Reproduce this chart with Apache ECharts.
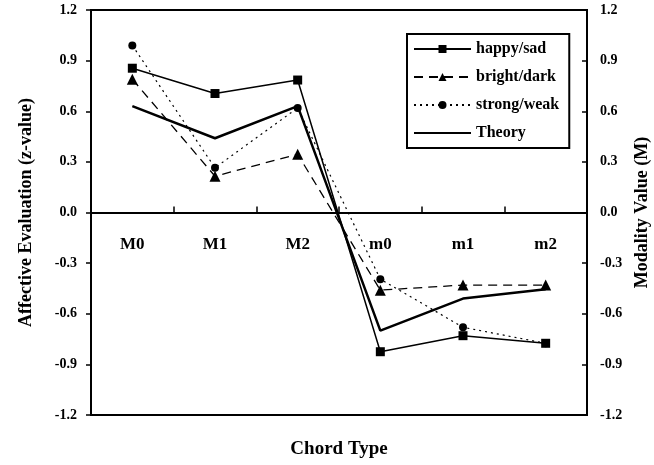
<!DOCTYPE html>
<html><head><meta charset="utf-8">
<script src="https://cdn.jsdelivr.net/npm/echarts@6/dist/echarts.min.js"></script>
<style>html,body{margin:0;padding:0;background:#fff}#c{width:654px;height:465px}</style>
</head><body><div id="c"></div>
<script>
const categories = ['M0','M1','M2','m0','m1','m2'];
const happySad = [0.855, 0.705, 0.785, -0.825, -0.73, -0.775];
const brightDark = [0.79, 0.215, 0.345, -0.46, -0.43, -0.43];
const strongWeak = [0.99, 0.265, 0.62, -0.395, -0.68, -0.775];
const theory = [0.63, 0.44, 0.63, -0.70, -0.51, -0.455];
const yTicks = [-1.2, 1.2, 0.3];

const F = 'Liberation Serif';
const chart = echarts.init(document.getElementById('c'));
const ax = (pos, inside, name, nameGap) => ({
  type: 'value', position: pos, min: yTicks[0], max: yTicks[1], interval: yTicks[2],
  name: name, nameLocation: 'middle', nameGap: nameGap, nameRotate: 90,
  nameTextStyle: {fontFamily: F, fontWeight: 'bold', fontSize: 18, color: '#000'},
  axisLine: {show: true, onZero: false, lineStyle: {color: '#000', width: 2}},
  axisTick: {show: true, inside: inside, length: 5, lineStyle: {color: '#000', width: 1.5}},
  axisLabel: {fontFamily: F, fontWeight: 'bold', fontSize: 14, color: '#000', margin: inside ? 13 : 14,
    formatter: v => v.toFixed(1)},
  splitLine: {show: false}
});
chart.setOption({
  animation: false,
  grid: {left: 91, right: 67, top: 10, bottom: 50, outerBoundsMode: 'none', containLabel: false,
    show: true, borderColor: '#000', borderWidth: 2, backgroundColor: 'transparent'},
  legend: {
    orient: 'vertical', left: 407, top: 34, itemWidth: 57, itemHeight: 10, itemGap: 12,
    borderColor: '#000', borderWidth: 2, padding: [7, 10, 7, 6],
    textStyle: {fontFamily: F, fontWeight: 'bold', fontSize: 16, color: '#000'},
    data: ['happy/sad', 'bright/dark', 'strong/weak', {name: 'Theory', itemStyle: {opacity: 0}}]
  },
  xAxis: {
    type: 'category', data: categories, boundaryGap: true, position: 'bottom', offset: -202.5,
    name: 'Chord Type', nameLocation: 'middle', nameGap: 227,
    nameTextStyle: {fontFamily: F, fontWeight: 'bold', fontSize: 19, color: '#000'},
    axisLine: {show: true, onZero: false, lineStyle: {color: '#000', width: 2}},
    axisTick: {show: true, inside: true, length: 6, lineStyle: {color: '#000', width: 1.5}},
    axisLabel: {fontFamily: F, fontWeight: 'bold', fontSize: 17, color: '#000', margin: 24}
  },
  yAxis: [ax('left', false, 'Affective Evaluation (z-value)', 56), ax('right', true, 'Modality Value (M)', 44)],
  series: [
    {name: 'happy/sad', type: 'line', data: happySad, symbol: 'rect', symbolSize: 9,
     lineStyle: {color: '#000', width: 1.5}, itemStyle: {color: '#000'}},
    {name: 'bright/dark', type: 'line', data: brightDark, symbol: 'triangle', symbolSize: 11,
     lineStyle: {color: '#000', width: 1.3, type: [9, 6]}, itemStyle: {color: '#000'}},
    {name: 'strong/weak', type: 'line', data: strongWeak, symbol: 'circle', symbolSize: 8,
     lineStyle: {color: '#000', width: 1.2, type: [2, 4]}, itemStyle: {color: '#000'}},
    {name: 'Theory', type: 'line', data: theory, yAxisIndex: 1, symbol: 'none',
     lineStyle: {color: '#000', width: 2.5}, itemStyle: {color: '#000'}}
  ]
});
</script></body></html>
